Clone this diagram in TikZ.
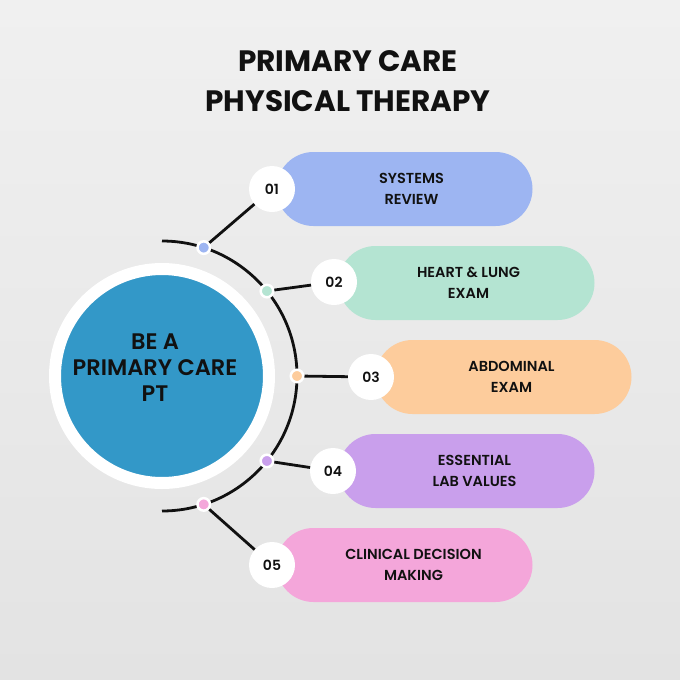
\documentclass[tikz,border=0pt]{standalone}
\usepackage{fontspec}
\setmainfont{Poppins}
\newfontfamily\medfont{Poppins SemiBold}
\usetikzlibrary{shapes,positioning,calc}

\definecolor{bggray}{HTML}{E3E3E3}
\definecolor{bglight}{HTML}{F0F0F0}
\definecolor{hubblue}{HTML}{3398C8}
\definecolor{inkdark}{HTML}{111111}
\definecolor{cblue}{HTML}{9DB5F2}
\definecolor{cmint}{HTML}{B4E4D2}
\definecolor{corange}{HTML}{FDCC9C}
\definecolor{cviolet}{HTML}{C99FEC}
\definecolor{cpink}{HTML}{F4A6DA}

\begin{document}
\begin{tikzpicture}[x=1pt, y=-1pt,
    pill/.style={rounded corners=37pt, minimum width=256pt, minimum height=74pt, inner sep=0pt},
    numdisc/.style={circle, fill=white, minimum size=46pt, inner sep=0pt, text=inkdark, font=\medfont\fontsize{14}{17}\selectfont},
    dotmark/.style={circle, fill=#1, draw=white, line width=2.5pt, minimum size=12.5pt, inner sep=0pt},
    itemtext/.style={align=center, text=inkdark, font=\medfont\fontsize{14.5}{21}\selectfont},
    conn/.style={line width=2.8pt, inkdark}]
    % Background
    \useasboundingbox (0,0) rectangle (680,680);
    \shade[top color=bglight, bottom color=bggray] (0,0) rectangle (680,680);

    % Title
    \node[align=center, text=inkdark, font=\bfseries\fontsize{29.5}{40}\selectfont] (title) at (348,81) {PRIMARY CARE\\PHYSICAL THERAPY};

    % Hub circle
    \node[circle, fill=hubblue, draw=white, line width=12pt, minimum size=214pt, inner sep=0pt] (hub) at (162,376) {};
    \node[align=center, text=inkdark, font=\medfont\fontsize{22.5}{26}\selectfont] (hubtext) at ($(hub)+(-7,-8)$) {BE A\\PRIMARY CARE\\PT};

    % Half ring
    \draw[conn] ($(hub)+(-90:135)$) arc[start angle=-90, end angle=90, radius=135];

    % Pills
    \node[pill, fill=cblue] (p1) at (404.5,189) {};
    \node[pill, fill=cmint] (p2) at (466.5,283) {};
    \node[pill, fill=corange] (p3) at (503.5,377) {};
    \node[pill, fill=cviolet] (p4) at (466.5,471) {};
    \node[pill, fill=cpink] (p5) at (404.5,565) {};

    \node[itemtext] (t1) at ($(p1)+(7,0)$) {SYSTEMS\\REVIEW};
    \node[itemtext] (t2) at ($(p2)+(2,0)$) {HEART \& LUNG\\EXAM};
    \node[itemtext] (t3) at ($(p3)+(8,0)$) {ABDOMINAL\\EXAM};
    \node[itemtext] (t4) at ($(p4)+(8,0)$) {ESSENTIAL\\LAB VALUES};
    \node[itemtext] (t5) at ($(p5)+(9,0)$) {CLINICAL DECISION\\MAKING};

    % Dots on the ring
    \node[dotmark=cblue] (d1) at ($(hub)+(-72:135)$) {};
    \node[dotmark=cmint] (d2) at ($(hub)+(-39:135)$) {};
    \node[dotmark=corange] (d3) at ($(hub)+(0:135)$) {};
    \node[dotmark=cviolet] (d4) at ($(hub)+(39:135)$) {};
    \node[dotmark=cpink] (d5) at ($(hub)+(72:135)$) {};

    % Number discs
    \node[numdisc] (n1) at (272,189) {01};
    \node[numdisc] (n2) at (334,282) {02};
    \node[numdisc] (n3) at (371,377) {03};
    \node[numdisc] (n4) at (333,471) {04};
    \node[numdisc] (n5) at (272,565) {05};

    % Connectors
    \draw[conn] (d1) -- (n1);
    \draw[conn] (d2) -- (n2);
    \draw[conn] (d3) -- (n3);
    \draw[conn] (d4) -- (n4);
    \draw[conn] (d5) -- (n5);
\end{tikzpicture}
\end{document}
